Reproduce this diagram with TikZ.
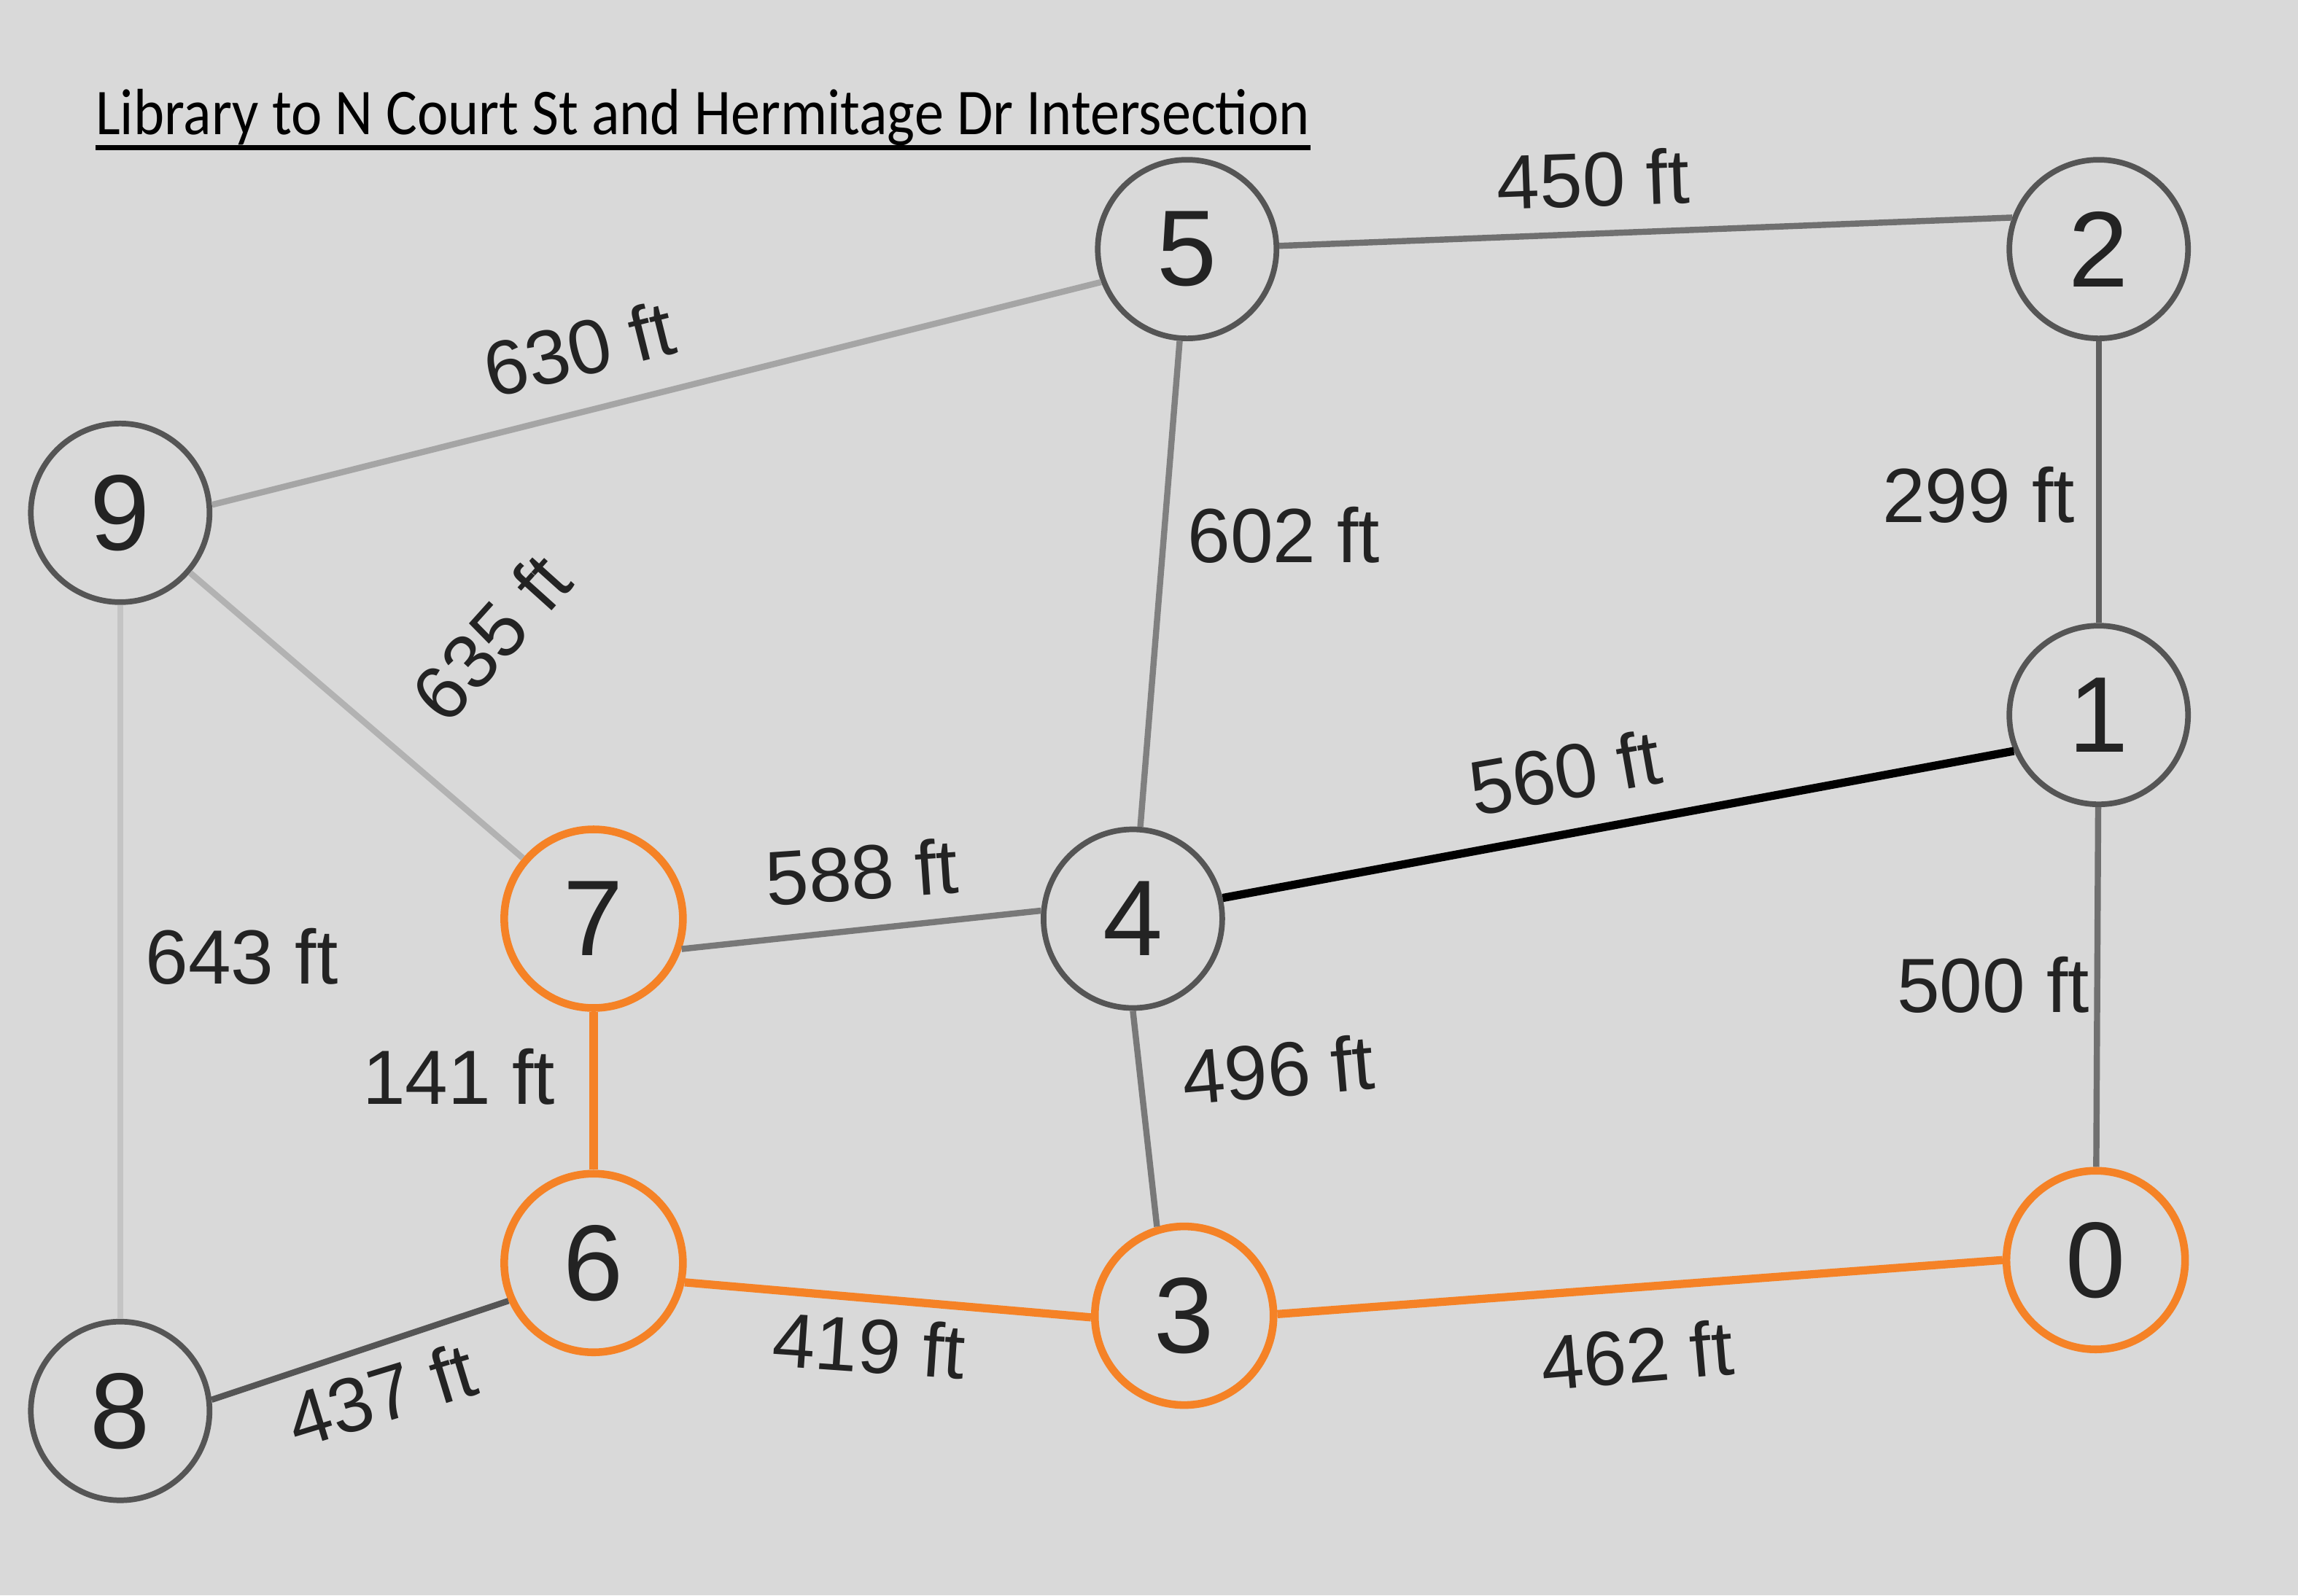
\documentclass[tikz,border=0pt]{standalone}
\usepackage{fontspec}
\setmainfont{Liberation Sans}
\newfontfamily\titlefont{Carlito}
\definecolor{bggray}{RGB}{217,217,217}
\definecolor{ringgray}{RGB}{85,85,85}
\definecolor{txtgray}{RGB}{35,35,35}
\definecolor{routeorange}{RGB}{245,130,38}

\begin{document}
\begin{tikzpicture}[x=0.0201cm,y=-0.0201cm]
    \tikzstyle{junction}=[circle,draw=ringgray,line width=2.2pt,minimum size=2.45cm,inner sep=0pt,text=txtgray,font=\fontsize{42}{42}\selectfont]
    \tikzstyle{onroute}=[junction,draw=routeorange,line width=3pt]
    \tikzstyle{dist}=[text=txtgray,inner sep=0pt,font=\fontsize{30}{30}\selectfont]
    \tikzstyle{road}=[line width=2.4pt]
    \tikzstyle{route}=[line width=3.2pt,draw=routeorange]

    \fill[bggray] (0,0) rectangle (1568,1089);
    \useasboundingbox (0,0) rectangle (1568,1089);

    \node[anchor=base west,inner sep=0pt,xscale=0.895,transform shape,font=\titlefont\fontsize{25.5}{30}\selectfont] (title) at (65,92) {Library to N Court St and Hermitage Dr Intersection};
    \draw[line width=2.2pt] ([yshift=-5pt]title.base west) -- ([yshift=-5pt]title.base east);

    % intersections
    \node[junction] (n5) at (810,170) {5};
    \node[junction] (n2) at (1432,170) {2};
    \node[junction] (n9) at (82,350) {9};
    \node[junction] (n1) at (1432,488) {1};
    \node[onroute] (n7) at (405,627) {7};
    \node[junction] (n4) at (773,627) {4};
    \node[onroute] (n6) at (405,862) {6};
    \node[onroute] (n3) at (808,898) {3};
    \node[onroute] (n0) at (1430,860) {0};
    \node[junction] (n8) at (82,963) {8};

    % roads
    \draw[road,draw={rgb,255:red,112;green,112;blue,112}] (n5.2) -- (n2.160);
    \draw[road,draw={rgb,255:red,165;green,165;blue,165}] (n9.5) -- (n5.201);
    \draw[road,draw={rgb,255:red,178;green,178;blue,178}] (n9) -- (n7);
    \draw[road,draw={rgb,255:red,196;green,196;blue,196}] (n9) -- (n8);
    \draw[road,draw={rgb,255:red,128;green,128;blue,128}] (n5) -- (n4);
    \draw[road,draw={rgb,255:red,96;green,96;blue,96}] (n2) -- (n1);
    \draw[line width=3.2pt,black] (n4.13) -- (n1.203);
    \draw[road,draw={rgb,255:red,112;green,112;blue,112}] (n1) -- (n0);
    \draw[road,draw={rgb,255:red,120;green,120;blue,120}] (n7.-19) -- (n4.175);
    \draw[road,draw={rgb,255:red,120;green,120;blue,120}] (n4.south) -- (n3.107);
    \draw[road,draw={rgb,255:red,85;green,85;blue,85}] (n8.7) -- (n6.204);
    \draw[route] (n7) -- (n6);
    \draw[route] (n6.-12) -- (n3.181);
    \draw[route] (n3.1) -- (n0.180);

    % distances
    \node[dist,rotate=2] (d52) at (1087,122) {450 ft};
    \node[dist,rotate=14] (d95) at (395,238) {630 ft};
    \node[dist,rotate=48] (d97) at (335,435) {635 ft};
    \node[dist] (d98) at (165,653) {643 ft};
    \node[dist] (d54) at (876,365) {602 ft};
    \node[dist] (d21) at (1350,338) {299 ft};
    \node[dist,rotate=10] (d41) at (1068,527) {560 ft};
    \node[dist] (d10) at (1360,672) {500 ft};
    \node[dist,rotate=4] (d74) at (588,595) {588 ft};
    \node[dist] (d76) at (313,735) {141 ft};
    \node[dist,rotate=5] (d43) at (872,730) {496 ft};
    \node[dist,rotate=-4] (d63) at (593,918) {419 ft};
    \node[dist,rotate=5] (d30) at (1117,925) {462 ft};
    \node[dist,rotate=17] (d86) at (260,952) {437 ft};
\end{tikzpicture}
\end{document}
